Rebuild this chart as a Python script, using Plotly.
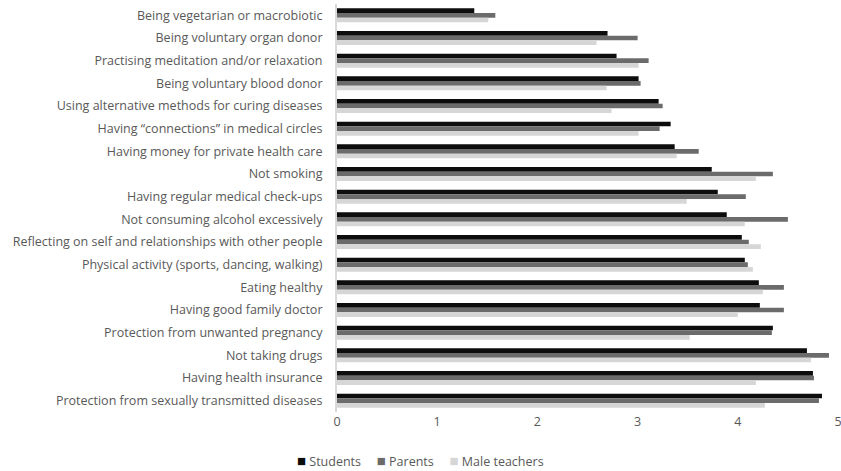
import plotly.graph_objects as go

# Categories listed top to bottom
categories = [
    "Being vegetarian or macrobiotic",
    "Being voluntary organ donor",
    "Practising meditation and/or relaxation",
    "Being voluntary blood donor",
    "Using alternative methods for curing diseases",
    "Having \u201cconnections\u201d in medical circles",
    "Having money for private health care",
    "Not smoking",
    "Having regular medical check-ups",
    "Not consuming alcohol excessively",
    "Reflecting on self and relationships with other people",
    "Physical activity (sports, dancing, walking)",
    "Eating healthy",
    "Having good family doctor",
    "Protection from unwanted pregnancy",
    "Not taking drugs",
    "Having health insurance",
    "Protection from sexually transmitted diseases",
]

students = [1.37, 2.70, 2.79, 3.01, 3.21, 3.33, 3.37, 3.74, 3.80, 3.89,
            4.04, 4.07, 4.21, 4.22, 4.35, 4.69, 4.75, 4.84]
parents = [1.58, 3.00, 3.11, 3.03, 3.25, 3.22, 3.61, 4.35, 4.08, 4.50,
           4.11, 4.10, 4.46, 4.46, 4.34, 4.91, 4.76, 4.81]
male_teachers = [1.51, 2.59, 3.01, 2.69, 2.74, 3.01, 3.39, 4.18, 3.49, 4.07,
                 4.23, 4.15, 4.25, 4.00, 3.52, 4.73, 4.18, 4.27]

x_ticks = [0, 1, 2, 3, 4, 5]

series = [
    ("Students", students, "#0d0d0d"),
    ("Parents", parents, "#6b6b6b"),
    ("Male teachers", male_teachers, "#d6d6d6"),
]

fig = go.Figure()
for name, vals, color in series:
    fig.add_trace(go.Bar(
        y=categories, x=vals, name=name, orientation="h",
        marker=dict(color=color, line=dict(width=0)),
        showlegend=False,
    ))

text_color = "#595959"

# Compact legend row built from coloured square glyphs
legend_text = "\u2003 ".join(
    f"<span style='color:{color};font-size:15px'>\u25a0</span> {name}"
    for name, _, color in series
)
fig.add_annotation(
    text=legend_text, xref="paper", yref="paper",
    x=0.166, y=-0.118, xanchor="center", yanchor="middle",
    showarrow=False, font=dict(family="Open Sans", size=12.5, color=text_color),
)

fig.update_layout(
    width=841, height=471,
    margin=dict(l=337, r=3, t=4, b=59),
    paper_bgcolor="white", plot_bgcolor="white",
    barmode="group", bargap=0.38, bargroupgap=0,
    font=dict(family="Open Sans", size=12.5, color=text_color),
    xaxis=dict(
        range=[0, 5], tickvals=x_ticks, showgrid=False, zeroline=False,
        showline=False, ticks="", automargin=False, ticklabeloverflow="allow",
        tickfont=dict(size=12.5, color=text_color),
    ),
    yaxis=dict(
        autorange="reversed", showgrid=False, zeroline=False,
        showline=True, linecolor="#d9d9d9", linewidth=2,
        ticks="", ticklabelstandoff=10, automargin=False,
        tickfont=dict(size=12.5, color=text_color),
    ),
)

fig.write_html("out.html")
